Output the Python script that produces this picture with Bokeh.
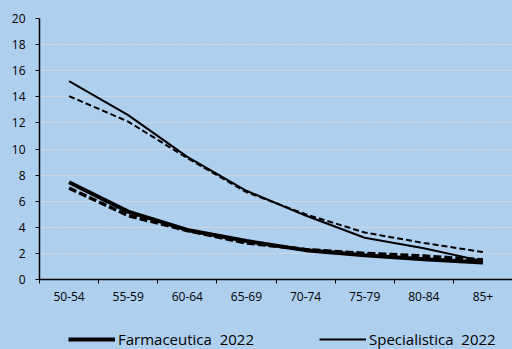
from bokeh.plotting import figure
from bokeh.layouts import column
from bokeh.models import FixedTicker, Legend, LegendItem, Range1d
from bokeh.embed import file_html
from bokeh.resources import INLINE

categories = ["50-54", "55-59", "60-64", "65-69", "70-74", "75-79", "80-84", "85+"]
farm_2022 = [7.45, 5.2, 3.8, 2.95, 2.25, 1.85, 1.55, 1.3]
farm_prev = [7.0, 4.9, 3.75, 2.8, 2.3, 2.0, 1.8, 1.5]
spec_2022 = [15.2, 12.6, 9.4, 6.8, 4.9, 3.2, 2.4, 1.4]
spec_prev = [14.05, 12.1, 9.3, 6.7, 5.0, 3.6, 2.8, 2.1]
y_ticks = list(range(0, 21, 2))
legend_labels = ["Farmaceutica  2022", "Specialistica  2022"]

BG = "#afcfee"
FONT = "Open Sans"

xs = [i + 0.5 for i in range(len(categories))]

p = figure(width=512, height=329, output_backend="svg", toolbar_location=None,
           x_range=Range1d(0, len(categories)), y_range=Range1d(0, 20),
           min_border_left=39, min_border_top=18, min_border_right=0,
           min_border_bottom=50)
p.background_fill_color = BG
p.border_fill_color = BG
p.outline_line_color = None

# lines
p.line(xs, farm_prev, line_color="black", line_width=3.5, line_dash="8 3")
p.line(xs, spec_prev, line_color="black", line_width=2, line_dash="6 3")
p.line(xs, farm_2022, line_color="black", line_width=4)
p.line(xs, spec_2022, line_color="black", line_width=2)

# x axis
xa = p.xaxis[0]
xa.ticker = FixedTicker(ticks=xs, minor_ticks=list(range(len(categories) + 1)))
xa.major_label_overrides = {x: c for x, c in zip(xs, categories)}
xa.major_tick_line_color = None
xa.major_tick_out = 4
xa.major_tick_in = 0
xa.minor_tick_line_color = "black"
xa.minor_tick_out = 4
xa.minor_tick_in = 0
xa.axis_line_color = "black"
xa.axis_line_width = 1.5
xa.major_label_standoff = 8
xa.major_label_text_font = FONT
xa.major_label_text_font_size = "12px"
xa.major_label_text_color = "black"

# y axis
ya = p.yaxis[0]
ya.ticker = FixedTicker(ticks=y_ticks)
ya.major_tick_out = 4
ya.major_tick_in = 0
ya.minor_tick_line_color = None
ya.axis_line_color = "black"
ya.axis_line_width = 1.5
ya.major_tick_line_color = "black"
ya.major_label_standoff = 10
ya.major_label_text_font = FONT
ya.major_label_text_font_size = "12px"
ya.major_label_text_color = "black"

p.xgrid.grid_line_color = None
p.ygrid.ticker = FixedTicker(ticks=y_ticks[1:])
p.ygrid.grid_line_color = "#d4d8de"
p.ygrid.grid_line_width = 1
p.ygrid.grid_line_dash = "2 1"

# legend strip below the chart
nan = float("nan")
lg = figure(width=512, height=20, output_backend="svg", toolbar_location=None,
            x_range=Range1d(0, 1), y_range=Range1d(0, 1),
            x_axis_location=None, y_axis_location=None,
            min_border=0, min_border_left=0, min_border_right=0,
            min_border_top=0, min_border_bottom=0)
lg.background_fill_color = BG
lg.border_fill_color = BG
lg.outline_line_color = None
lg.xgrid.visible = False
lg.ygrid.visible = False
g_farm = lg.line([nan], [nan], line_color="black", line_width=4)
g_spec = lg.line([nan], [nan], line_color="black", line_width=2)

legend = Legend(items=[LegendItem(label=legend_labels[0], renderers=[g_farm]),
                       LegendItem(label=legend_labels[1], renderers=[g_spec])],
                location=(29, 0), orientation="horizontal")
legend.background_fill_alpha = 0
legend.border_line_color = None
legend.padding = 0
legend.margin = 0
legend.glyph_width = 47
legend.glyph_height = 16
legend.label_height = 16
legend.label_standoff = 3
legend.spacing = 65
legend.label_text_font = FONT
legend.label_text_font_size = "15px"
legend.label_text_color = "black"
lg.add_layout(legend, "center")

layout = column(p, lg, spacing=0, styles={"background-color": BG})
open("out.html", "w").write(file_html(layout, INLINE))
